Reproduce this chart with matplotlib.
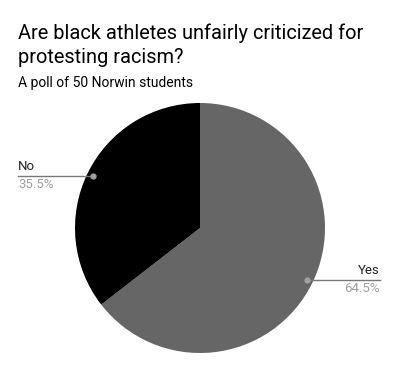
import numpy as np
import matplotlib.pyplot as plt

plt.rcParams['font.family'] = ['Roboto', 'DejaVu Sans']

labels = ["Yes", "No"]
shares = [64.5, 35.5]
colors = ["#666666", "#000000"]

W, H = 399, 371
fig = plt.figure(figsize=(W / 100, H / 100), dpi=100)

# pie axes: centre ~ (200, 228) px, radius ~125 px
R = 125
cx, cy = 200, 228
ax = fig.add_axes([(cx - R) / W, (H - cy - R) / H, 2 * R / W, 2 * R / H])
wedges, _ = ax.pie(shares, colors=colors, startangle=90, counterclock=False,
                   radius=1, wedgeprops=dict(linewidth=0))
ax.set_xlim(-1, 1)
ax.set_ylim(-1, 1)
ax.set_aspect("equal")
ax.axis("off")

fig.text(18 / W, 1 - 39 / H, "Are black athletes unfairly criticized for",
         fontsize=14.4, color="#000000", va="baseline")
fig.text(18 / W, 1 - 63 / H, "protesting racism?",
         fontsize=14.4, color="#000000", va="baseline")
fig.text(18 / W, 1 - 87 / H, "A poll of 50 Norwin students",
         fontsize=10, color="#000000", va="baseline")

# leader lines with labels
label_edge = {"Yes": 380, "No": 18}
for w, lab, val in zip(wedges, labels, shares):
    mid = np.deg2rad((w.theta1 + w.theta2) / 2)
    r = 0.95
    dx, dy = r * np.cos(mid), r * np.sin(mid)
    px = cx + dx * R
    py = cy - dy * R
    ex = label_edge[lab]
    fig.add_artist(plt.Line2D([px / W, ex / W], [1 - py / H, 1 - py / H],
                              transform=fig.transFigure, color="#777777", lw=1))
    fig.add_artist(plt.Line2D([px / W], [1 - py / H], transform=fig.transFigure,
                              marker="o", ms=3.5, color="#a0a0a0", lw=0))
    ha = "right" if lab == "Yes" else "left"
    fig.text(ex / W, 1 - (py - 3) / H, lab, fontsize=9.5, color="#222222",
             ha=ha, va="bottom")
    fig.text(ex / W, 1 - (py + 2) / H, f"{val}%", fontsize=9.5, color="#9e9e9e",
             ha=ha, va="top")

fig.savefig("out.png", dpi=100, facecolor="white")
